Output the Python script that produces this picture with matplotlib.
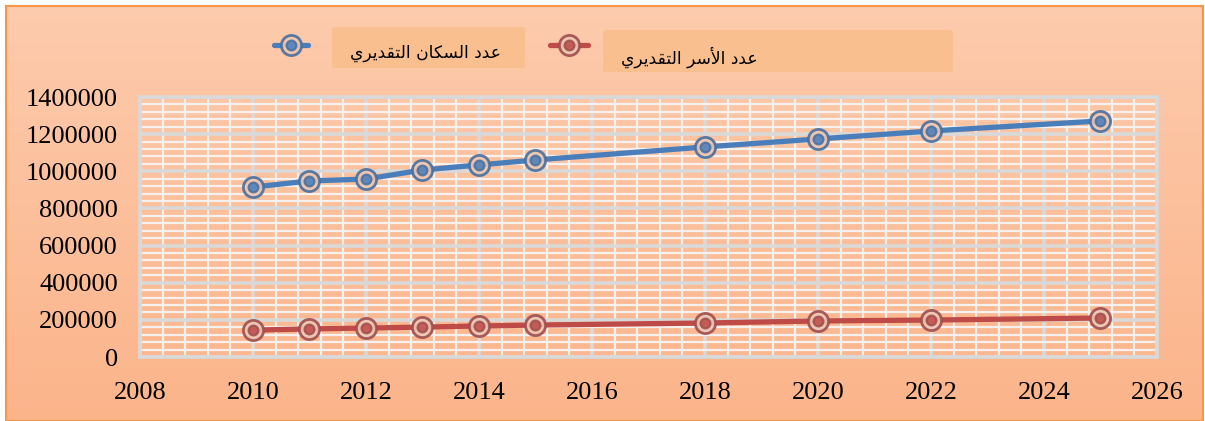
import matplotlib
matplotlib.use("Agg")
import matplotlib.pyplot as plt
import numpy as np
from matplotlib.patches import Rectangle, FancyBboxPatch
from matplotlib.lines import Line2D

# ---------------------------------------------------------------------------
# Data
# ---------------------------------------------------------------------------
years = [2010, 2011, 2012, 2013, 2014, 2015, 2018, 2020, 2022, 2025]
population = [915000, 948000, 958000, 1007000, 1034000, 1061000,
              1131000, 1174000, 1217000, 1271000]
households = [145000, 151000, 156000, 161000, 167000, 172000,
              183000, 194000, 199000, 210000]
label_pop = "عدد السكان التقديري"
label_hh = "عدد الأسر التقديري"

BLUE = "#4a7ebb"
BLUE_EDGE = "#4a6f9e"
RED = "#be4b48"
RED_EDGE = "#a04e4e"

# ---------------------------------------------------------------------------
# Tiny Arabic shaper (matplotlib has no text shaping)
# ---------------------------------------------------------------------------
# letter: (isolated, final, initial, medial); None = does not join forward
FORMS = {
    "ع": ("\ufec9", "\ufeca", "\ufecb", "\ufecc"),
    "د": ("\ufea9", "\ufeaa", None, None),
    "ا": ("\ufe8d", "\ufe8e", None, None),
    "أ": ("\ufe83", "\ufe84", None, None),
    "ر": ("\ufead", "\ufeae", None, None),
    "ل": ("\ufedd", "\ufede", "\ufedf", "\ufee0"),
    "س": ("\ufeb1", "\ufeb2", "\ufeb3", "\ufeb4"),
    "ك": ("\ufed9", "\ufeda", "\ufedb", "\ufedc"),
    "ن": ("\ufee5", "\ufee6", "\ufee7", "\ufee8"),
    "ت": ("\ufe95", "\ufe96", "\ufe97", "\ufe98"),
    "ق": ("\ufed5", "\ufed6", "\ufed7", "\ufed8"),
    "ي": ("\ufef1", "\ufef2", "\ufef3", "\ufef4"),
}
LAM_ALEF = {"ا": ("\ufefb", "\ufefc"), "أ": ("\ufef7", "\ufef8")}


def shape_word(w):
    out = []
    i = 0
    prev_joins = False
    while i < len(w):
        c = w[i]
        if c == "ل" and i + 1 < len(w) and w[i + 1] in LAM_ALEF:
            iso, fin = LAM_ALEF[w[i + 1]]
            out.append(fin if prev_joins else iso)
            prev_joins = False
            i += 2
            continue
        iso, fin, ini, med = FORMS[c]
        nxt = i + 1 < len(w)
        can_fwd = ini is not None and nxt
        if prev_joins and can_fwd:
            out.append(med)
        elif prev_joins:
            out.append(fin)
        elif can_fwd:
            out.append(ini)
        else:
            out.append(iso)
        prev_joins = ini is not None
        i += 1
    return "".join(reversed(out))


def shape(text):
    return " ".join(shape_word(w) for w in reversed(text.split(" ")))


# ---------------------------------------------------------------------------
# Figure + gradient background
# ---------------------------------------------------------------------------
fig = plt.figure(figsize=(12.05, 4.21), dpi=100)
fig.patch.set_facecolor("white")

bg = fig.add_axes([6 / 1205, 0, 1 - 8 / 1205, 1 - 6 / 421], zorder=-10)
top = np.array([253, 203, 173]) / 255
bot = np.array([251, 180, 138]) / 255
t = np.linspace(0, 1, 256)[:, None]
grad = top[None, None, :] * (1 - t[..., None]) + bot[None, None, :] * t[..., None]
grad = np.repeat(grad, 2, axis=1)
bg.imshow(grad, aspect="auto", extent=[0, 1, 0, 1])
bg.set_axis_off()
fig.add_artist(Rectangle((6 / 1205, 0), 1 - 8 / 1205, 1 - 6 / 421,
                         transform=fig.transFigure, fill=False,
                         edgecolor="#f79646", linewidth=1.5, zorder=-5))

# ---------------------------------------------------------------------------
# Plot
# ---------------------------------------------------------------------------
ax = fig.add_axes([140 / 1205, 1 - 357 / 421, (1157 - 140) / 1205, 260 / 421])
ax.patch.set_alpha(0)

ax.set_xlim(2008, 2026)
ax.set_ylim(0, 1400000)
ax.set_xticks(np.arange(2008, 2027, 2))
ax.set_xticks(np.arange(2008, 2026.01, 0.4), minor=True)
ax.set_yticks(np.arange(0, 1400001, 200000))
ax.set_yticks(np.arange(0, 1400001, 40000), minor=True)
ax.yaxis.set_major_formatter(plt.FuncFormatter(lambda v, _: f"{int(v)}"))
ax.xaxis.set_major_formatter(plt.FuncFormatter(lambda v, _: f"{int(v)}"))

ax.grid(which="minor", color="#f4f1ee", linewidth=1.6, zorder=1)
ax.grid(which="major", color="#d9d9d9", linewidth=2.6, zorder=2)
for s in ax.spines.values():
    s.set_color("#d9d9d9")
    s.set_linewidth(2.6)

ax.tick_params(which="both", length=0, labelsize=19,
               labelfontfamily="Liberation Serif", labelcolor="black")
ax.tick_params(axis="y", pad=16)
ax.tick_params(axis="x", pad=18)


def series(y, color, edge):
    ax.plot(years, y, color=color, linewidth=3.8, zorder=4, solid_capstyle="round")
    ax.scatter(years, y, s=14.5 ** 2, facecolor=(0.93, 0.78, 0.70, 0.45),
               edgecolor=edge, linewidth=2.0, zorder=5, alpha=0.9)
    ax.scatter(years, y, s=7 ** 2, facecolor=color,
               edgecolor=edge, linewidth=1.6, zorder=6, alpha=0.85)


series(population, BLUE, BLUE_EDGE)
series(households, RED, RED_EDGE)

# ---------------------------------------------------------------------------
# Legend (drawn by hand to match the boxed layout)
# ---------------------------------------------------------------------------
H, W = 421, 1205


def fx(px):
    return px / W


def fy(py):
    return 1 - py / H


def legend_entry(x0, x1, y, color, edge, box, text, tx):
    fig.add_artist(Line2D([fx(x0), fx(x1)], [fy(y), fy(y)], color=color,
                          linewidth=3.8, solid_capstyle="round",
                          transform=fig.transFigure))
    xm = fx((x0 + x1) / 2)
    fig.add_artist(Line2D([xm], [fy(y)], marker="o", markersize=14.5,
                          markerfacecolor=(0.93, 0.78, 0.70, 0.45),
                          markeredgecolor=edge, markeredgewidth=2.0,
                          alpha=0.9, transform=fig.transFigure))
    fig.add_artist(Line2D([xm], [fy(y)], marker="o", markersize=7,
                          markerfacecolor=color, markeredgecolor=edge,
                          markeredgewidth=1.6, alpha=0.85,
                          transform=fig.transFigure))
    bx0, by0, bx1, by1 = box
    fig.add_artist(FancyBboxPatch((fx(bx0), fy(by1)), fx(bx1 - bx0),
                                  (by1 - by0) / H,
                                  boxstyle="round,pad=0,rounding_size=0.004",
                                  transform=fig.transFigure,
                                  facecolor="#f9bf8f", edgecolor="none",
                                  zorder=-1))
    fig.text(fx(tx), fy((by0 + by1) / 2 + 6), shape(text), ha="center",
             va="center", fontsize=12.3, family="DejaVu Sans", color="black")


legend_entry(274, 308, 45, BLUE, BLUE_EDGE, (332, 27, 525, 68), label_pop, 426)
legend_entry(550, 588, 45, RED, RED_EDGE, (603, 30, 953, 72), label_hh, 689)

fig.savefig("out.png", dpi=100)
